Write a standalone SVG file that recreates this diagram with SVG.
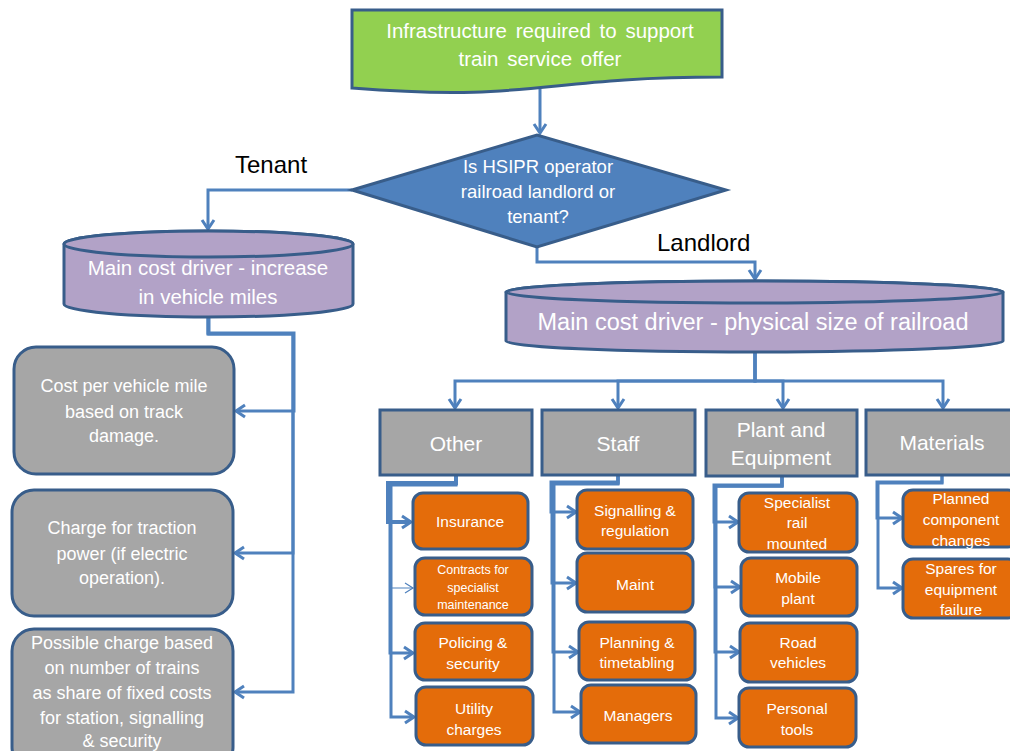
<svg xmlns="http://www.w3.org/2000/svg" width="1010" height="751" viewBox="0 0 1010 751">
<style>
  text { font-family: "Liberation Sans", Arial, sans-serif; fill: #FFFFFF; text-anchor: middle; }
  .lbl { fill: #000000; font-size: 24px; text-anchor: start; }
  .conn { fill: none; stroke: #4F81BD; stroke-width: 3; marker-end: url(#ah); }
  .thin { stroke-width: 1.2; marker-end: url(#ahs); }
  .edge { stroke: #385D8A; stroke-width: 3; }
  .cat { fill: #A6A6A6; }
  .org { fill: #E46C0A; }
  .gry { fill: #A6A6A6; }
  .cyl { fill: #B2A2C7; }
  .t21 { font-size: 21px; }
  .t18 { font-size: 18px; }
  .t15 { font-size: 15.5px; }
  .t12 { font-size: 12.5px; }
</style>
<defs>
  <marker id="ah" markerUnits="userSpaceOnUse" markerWidth="14" markerHeight="16" refX="11" refY="8" orient="auto">
    <path d="M2,2 L11,8 L2,14" fill="none" stroke="#4F81BD" stroke-width="3"/>
  </marker>
  <marker id="ahs" markerUnits="userSpaceOnUse" markerWidth="14" markerHeight="16" refX="11" refY="8" orient="auto">
    <path d="M3,3 L11,8 L3,13" fill="none" stroke="#4F81BD" stroke-width="1.2"/>
  </marker>
</defs>

<g id="connectors">
  <path class="conn" d="M540,89 V133"/>
  <path class="conn" d="M352,190 H208 V229"/>
  <path class="conn" d="M537,247 V262 H755 V279"/>
  <path class="conn" d="M208,317 V333 H294 V411 H236"/>
  <path class="conn" d="M208,318 V334 H293 V553 H235"/>
  <path class="conn" d="M209,318 V334 H293 V692 H235"/>
  <path class="conn" d="M755,352 V381 H455 V408"/>
  <path class="conn" d="M755,352 V381 H618 V408"/>
  <path class="conn" d="M755,352 V381 H783 V408"/>
  <path class="conn" d="M755,352 V381 H943 V408"/>
  <path class="conn" d="M456,476 V483 H388 V522 H411" style="stroke-width:4"/>
  <path class="conn thin" d="M456,476 V484 H390 V588 H413"/>
  <path class="conn" d="M456,476 V484 H390 V653 H413"/>
  <path class="conn" d="M456,476 V485 H391 V717 H414"/>
  <path class="conn" d="M618,476 V482 H551 V512 H576"/>
  <path class="conn" d="M618,476 V483 H552 V583 H576"/>
  <path class="conn" d="M618,476 V483 H553 V652 H578"/>
  <path class="conn" d="M618,476 V484 H554 V712 H580"/>
  <path class="conn" d="M782,477 V485 H714 V522 H738"/>
  <path class="conn" d="M782,477 V486 H715 V587 H740"/>
  <path class="conn" d="M782,477 V486 H715 V652 H739"/>
  <path class="conn" d="M782,477 V486 H716 V718 H738"/>
  <path class="conn" d="M942,475 V482 H877 V518 H902"/>
  <path class="conn" d="M942,475 V483 H878 V588 H902"/>
</g>

<g id="start">
  <path d="M352,10 H722 V77 C537,77 537,102.5 352,88 Z" fill="#92D050" class="edge"/>
  <text x="540" y="38" style="font-size:20.5px;word-spacing:3px">Infrastructure required to support</text>
  <text x="540" y="66" style="font-size:20.5px;word-spacing:3px">train service offer</text>
</g>

<g id="decision">
  <polygon points="352,190 537,135 726,190 537,247" fill="#4F81BD" class="edge"/>
  <text x="538" y="173" style="font-size:18.5px">Is HSIPR operator</text>
  <text x="538" y="198" style="font-size:18.5px">railroad landlord or</text>
  <text x="538" y="223" style="font-size:18.5px">tenant?</text>
</g>

<g id="label-tenant"><text class="lbl" x="235" y="173">Tenant</text></g>
<g id="label-landlord"><text class="lbl" x="657" y="251">Landlord</text></g>

<g id="tenant-driver">
  <path class="cyl edge" d="M64,244 V304 A144.5,13 0 0 0 353,304 V244 A144.5,13 0 0 0 64,244 Z"/>
  <ellipse class="cyl edge" cx="208.5" cy="244" rx="144.5" ry="13"/>
  <text x="208" y="275" style="font-size:20.5px">Main cost driver - increase</text>
  <text x="208" y="304" style="font-size:20.5px">in vehicle miles</text>
</g>

<g id="landlord-driver">
  <path class="cyl edge" d="M506,292 V341 A248.5,11 0 0 0 1003,341 V292 A248.5,11 0 0 0 506,292 Z"/>
  <ellipse class="cyl edge" cx="754.5" cy="292" rx="248.5" ry="11"/>
  <text x="753" y="330" style="font-size:23.5px">Main cost driver - physical size of railroad</text>
</g>

<g id="tenant-cost-1">
  <rect class="gry edge" x="14" y="347" width="220" height="127" rx="22"/>
  <text class="t18" x="124" y="392">Cost per vehicle mile</text>
  <text class="t18" x="124" y="418">based on track</text>
  <text class="t18" x="124" y="442">damage.</text>
</g>
<g id="tenant-cost-2">
  <rect class="gry edge" x="12" y="490" width="221" height="126" rx="22"/>
  <text class="t18" x="122" y="534">Charge for traction</text>
  <text class="t18" x="122" y="560">power (if electric</text>
  <text class="t18" x="122" y="584">operation).</text>
</g>
<g id="tenant-cost-3">
  <rect class="gry edge" x="12" y="629" width="221" height="140" rx="22"/>
  <text class="t18" x="122" y="649">Possible charge based</text>
  <text class="t18" x="122" y="674">on number of trains</text>
  <text class="t18" x="122" y="699">as share of fixed costs</text>
  <text class="t18" x="122" y="724">for station, signalling</text>
  <text class="t18" x="122" y="747">&amp; security</text>
</g>

<g id="cat-other">
  <rect class="cat edge" x="380" y="410" width="152" height="65"/>
  <text class="t21" x="456" y="451">Other</text>
</g>
<g id="cat-staff">
  <rect class="cat edge" x="542" y="410" width="153" height="65"/>
  <text class="t21" x="618" y="451">Staff</text>
</g>
<g id="cat-plant">
  <rect class="cat edge" x="706" y="410" width="151" height="66"/>
  <text class="t21" x="781" y="437">Plant and</text>
  <text class="t21" x="781" y="465">Equipment</text>
</g>
<g id="cat-materials">
  <rect class="cat edge" x="866" y="410" width="160" height="65"/>
  <text class="t21" x="942" y="450">Materials</text>
</g>

<g id="other-insurance">
  <rect class="org edge" x="413" y="493" width="115" height="56" rx="10"/>
  <text class="t15" x="470" y="527">Insurance</text>
</g>
<g id="other-contracts">
  <rect class="org edge" x="415" y="558" width="117" height="57" rx="10"/>
  <text class="t12" x="473" y="574">Contracts for</text>
  <text class="t12" x="473" y="592">specialist</text>
  <text class="t12" x="473" y="609">maintenance</text>
</g>
<g id="other-policing">
  <rect class="org edge" x="415" y="623" width="117" height="57" rx="10"/>
  <text class="t15" x="473" y="648">Policing &amp;</text>
  <text class="t15" x="473" y="669">security</text>
</g>
<g id="other-utility">
  <rect class="org edge" x="416" y="687" width="117" height="58" rx="10"/>
  <text class="t15" x="474" y="714">Utility</text>
  <text class="t15" x="474" y="735">charges</text>
</g>

<g id="staff-signalling">
  <rect class="org edge" x="577" y="490" width="116" height="59" rx="10"/>
  <text class="t15" x="635" y="516">Signalling &amp;</text>
  <text class="t15" x="635" y="536">regulation</text>
</g>
<g id="staff-maint">
  <rect class="org edge" x="577" y="553" width="116" height="59" rx="10"/>
  <text class="t15" x="635" y="590">Maint</text>
</g>
<g id="staff-planning">
  <rect class="org edge" x="579" y="622" width="116" height="58" rx="10"/>
  <text class="t15" x="637" y="648">Planning &amp;</text>
  <text class="t15" x="637" y="668">timetabling</text>
</g>
<g id="staff-managers">
  <rect class="org edge" x="581" y="685" width="115" height="58" rx="10"/>
  <text class="t15" x="638" y="721">Managers</text>
</g>

<g id="plant-specialist">
  <rect class="org edge" x="739" y="493" width="118" height="59" rx="10"/>
  <text class="t15" x="797" y="508">Specialist</text>
  <text class="t15" x="797" y="528">rail</text>
  <text class="t15" x="797" y="549">mounted</text>
</g>
<g id="plant-mobile">
  <rect class="org edge" x="741" y="558" width="116" height="58" rx="10"/>
  <text class="t15" x="798" y="583">Mobile</text>
  <text class="t15" x="798" y="604">plant</text>
</g>
<g id="plant-road">
  <rect class="org edge" x="740" y="623" width="117" height="59" rx="10"/>
  <text class="t15" x="798" y="648">Road</text>
  <text class="t15" x="798" y="668">vehicles</text>
</g>
<g id="plant-tools">
  <rect class="org edge" x="739" y="688" width="117" height="59" rx="10"/>
  <text class="t15" x="797" y="714">Personal</text>
  <text class="t15" x="797" y="735">tools</text>
</g>

<g id="materials-planned">
  <rect class="org edge" x="903" y="490" width="115" height="57" rx="10"/>
  <text class="t15" x="961" y="504">Planned</text>
  <text class="t15" x="961" y="525">component</text>
  <text class="t15" x="961" y="546">changes</text>
</g>
<g id="materials-spares">
  <rect class="org edge" x="903" y="559" width="115" height="59" rx="10"/>
  <text class="t15" x="961" y="574">Spares for</text>
  <text class="t15" x="961" y="595">equipment</text>
  <text class="t15" x="961" y="615">failure</text>
</g>
</svg>
